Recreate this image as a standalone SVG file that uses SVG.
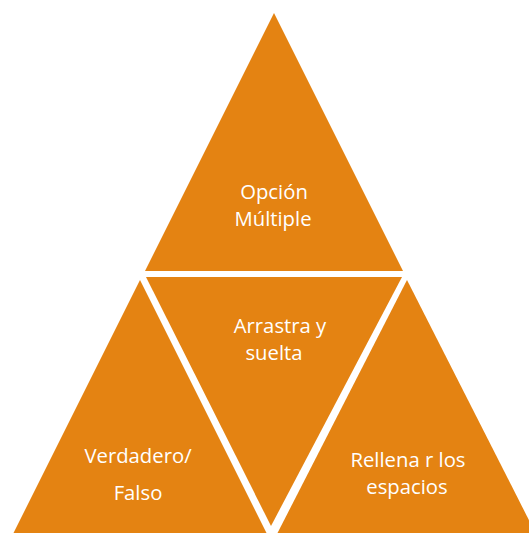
<svg xmlns="http://www.w3.org/2000/svg" width="529" height="533" viewBox="0 0 529 533">
<style>
.tri{fill:#E48312;stroke:none}
.lbl{fill:#FFFFFF;font-family:"Open Sans","Liberation Sans",sans-serif;font-size:20.3px;text-anchor:middle}
</style>
<rect width="529" height="533" fill="#FFFFFF"/>
<g id="node-opcion">
<polygon class="tri" points="274,13 145,271 403,271"/>
<text class="lbl" x="274" y="199">Opción</text>
<text class="lbl" x="273" y="226">Múltiple</text>
</g>
<g id="node-arrastra">
<polygon class="tri" points="146,277 402,277 271,526"/>
<text class="lbl" x="280" y="333">Arrastra y</text>
<text class="lbl" x="274" y="360">suelta</text>
</g>
<g id="node-verdadero">
<polygon class="tri" points="140,280 13,534 267,534"/>
<text class="lbl" x="138" y="463">Verdadero/</text>
<text class="lbl" x="138" y="500">Falso</text>
</g>
<g id="node-rellena">
<polygon class="tri" points="407,280 277,534 536,534"/>
<text class="lbl" x="408" y="467">Rellena r los</text>
<text class="lbl" x="407" y="494">espacios</text>
</g>
<g id="connectors"></g>
</svg>
